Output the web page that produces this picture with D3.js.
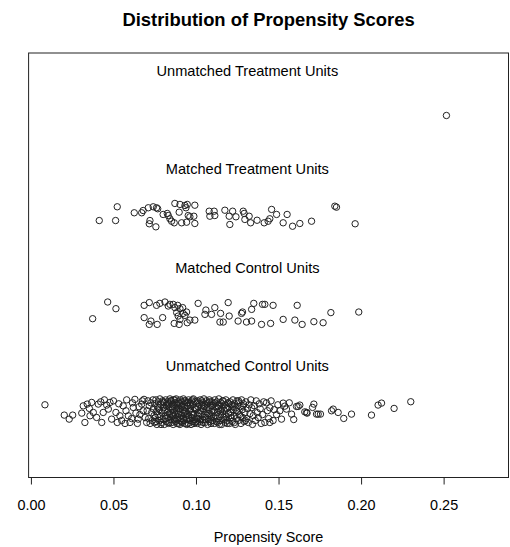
<!DOCTYPE html>
<html>
<head>
<meta charset="utf-8">
<script src="https://cdn.jsdelivr.net/npm/d3@7"></script>
<style>
  body { margin: 0; background: #fff; }
  svg { display: block; font-family: "Liberation Sans", Arial, sans-serif; }
</style>
</head>
<body>
<div id="chart"></div>
<script>
// group labels, their row positions and where the point rows are centred
const groups = ['Unmatched Treatment Units', 'Matched Treatment Units', 'Matched Control Units', 'Unmatched Control Units'];
const labelRows = [4, 3, 2, 1];
const pointRows = [3.5, 2.5, 1.5, 0.5];
const xTicks = [0, 0.05, 0.10, 0.15, 0.20, 0.25];

// [propensity score, vertical jitter]
const unmatchedTreated = [[0.2517, 0.024]];

const matchedTreated = [
  [0.0414, -0.045], [0.0513, -0.045], [0.0523, 0.095], [0.0626, 0.034], [0.0671, 0.034],
  [0.0680, 0.057], [0.0711, 0.085], [0.0741, 0.095], [0.0761, 0.085], [0.0768, 0.075],
  [0.0721, -0.045], [0.0717, -0.078], [0.0757, -0.109], [0.0801, 0.017], [0.0826, 0.027],
  [0.0832, 0.006], [0.0842, -0.027], [0.0852, -0.052], [0.0868, -0.068], [0.0872, 0.129],
  [0.0903, 0.119], [0.0898, 0.040], [0.0913, -0.068], [0.0933, 0.108], [0.0939, 0.085],
  [0.0947, 0.119], [0.0943, -0.062], [0.0953, 0.006], [0.0963, -0.007], [0.0987, -0.001],
  [0.0993, 0.111], [0.0993, -0.075], [0.1080, 0.050], [0.1084, -0.001], [0.1110, 0.050],
  [0.1114, 0.006], [0.1175, 0.060], [0.1201, -0.001], [0.1205, -0.085], [0.1222, 0.050],
  [0.1242, -0.007], [0.1286, 0.050], [0.1292, 0.027], [0.1296, -0.034], [0.1322, -0.001],
  [0.1331, -0.068], [0.1370, -0.042], [0.1413, -0.068], [0.1437, -0.052], [0.1447, -0.027],
  [0.1458, 0.068], [0.1488, 0.017], [0.1528, -0.068], [0.1552, 0.017], [0.1585, -0.103],
  [0.1629, -0.075], [0.1700, -0.052], [0.1841, 0.101], [0.1851, 0.091], [0.1964, -0.078]
];

const matchedControl = [
  [0.0374, -0.044], [0.0465, 0.126], [0.0515, 0.058], [0.0686, 0.092], [0.0717, 0.120],
  [0.0686, -0.033], [0.0727, -0.068], [0.0717, -0.102], [0.0765, -0.102], [0.0761, 0.092],
  [0.0781, 0.112], [0.0812, 0.126], [0.0798, -0.033], [0.0832, 0.085], [0.0842, 0.102],
  [0.0862, 0.102], [0.0872, 0.069], [0.0889, 0.092], [0.0903, 0.058], [0.0919, 0.069],
  [0.0883, 0.018], [0.0892, -0.017], [0.0903, -0.051], [0.0922, 0.010], [0.0933, -0.010],
  [0.0943, 0.024], [0.0868, -0.092], [0.0898, -0.102], [0.0947, -0.085], [0.0963, -0.058],
  [0.0993, -0.058], [0.1013, 0.112], [0.1060, 0.044], [0.1054, 0.000], [0.1094, 0.000],
  [0.1114, 0.069], [0.1149, 0.010], [0.1145, -0.078], [0.1165, -0.078], [0.1195, 0.120],
  [0.1201, -0.017], [0.1255, -0.068], [0.1276, 0.010], [0.1282, 0.024], [0.1306, -0.078],
  [0.1337, -0.068], [0.1337, 0.051], [0.1350, 0.112], [0.1403, 0.102], [0.1417, 0.102],
  [0.1397, -0.102], [0.1452, -0.092], [0.1467, 0.092], [0.1528, -0.051], [0.1599, -0.058],
  [0.1613, 0.092], [0.1643, -0.102], [0.1714, -0.074], [0.1770, -0.085], [0.1817, 0.018],
  [0.1986, 0.024]
];

const unmatchedControl = [
  // left tail
  [0.0085, 0.080], [0.0202, -0.025], [0.0232, -0.066], [0.0253, -0.025], [0.0308, -0.005],
  [0.0317, 0.069], [0.0327, -0.100], [0.0341, 0.087], [0.0354, 0.043], [0.0368, 0.104],
  [0.0358, -0.032], [0.0378, 0.002], [0.0398, -0.049], [0.0408, 0.087], [0.0429, -0.100],
  [0.0438, 0.002], [0.0423, 0.110], [0.0459, 0.077], [0.0469, 0.036], [0.0479, 0.104],
  [0.0489, -0.066], [0.0515, 0.002], [0.0523, -0.100], [0.0539, -0.032], [0.0559, 0.069],
  [0.0576, 0.019], [0.0590, -0.032], [0.0600, -0.100], [0.0620, 0.053], [0.0636, -0.005],
  [0.0650, -0.066], [0.0671, 0.087], [0.0680, 0.019], [0.0701, -0.100], [0.0500, 0.120],
  [0.0550, -0.080], [0.0580, 0.130], [0.0610, -0.060], [0.0630, 0.135], [0.0660, -0.020],
  [0.0685, 0.135], [0.0445, 0.130], [0.0532, 0.090], [0.0655, 0.060], [0.0692, -0.050],
  [0.0570, -0.110], [0.0615, 0.100], [0.0645, -0.110], [0.0675, 0.120],
  // dense core
  [0.0704, 0.02], [0.0709, 0.12], [0.0713, -0.06], [0.0717, 0.07], [0.0722, -0.11], [0.0726, 0.10],
  [0.0731, 0.00], [0.0735, -0.08], [0.0739, 0.13], [0.0742, 0.04], [0.0746, -0.03], [0.0749, -0.10],
  [0.0751, 0.09], [0.0754, -0.05], [0.0757, 0.13], [0.0760, 0.01], [0.0763, -0.12], [0.0766, 0.06],
  [0.0769, -0.02], [0.0772, 0.11], [0.0775, -0.08], [0.0778, 0.03], [0.0781, 0.14], [0.0784, -0.04],
  [0.0787, 0.08], [0.0791, -0.10], [0.0794, 0.00], [0.0797, 0.12],
  [0.0801, -0.07], [0.0803, 0.05], [0.0806, 0.10], [0.0808, -0.12], [0.0811, 0.02], [0.0813, -0.03],
  [0.0816, 0.13], [0.0819, 0.07], [0.0821, -0.09], [0.0824, 0.00], [0.0826, 0.11], [0.0829, -0.05],
  [0.0831, 0.04], [0.0834, -0.11], [0.0836, 0.09], [0.0839, -0.01], [0.0842, 0.14], [0.0844, -0.07],
  [0.0847, 0.06], [0.0849, -0.02],
  [0.0851, 0.12], [0.0853, -0.10], [0.0855, 0.03], [0.0857, -0.04], [0.0860, 0.08], [0.0862, -0.12],
  [0.0864, 0.13], [0.0866, 0.00], [0.0869, -0.07], [0.0871, 0.10], [0.0873, 0.05], [0.0875, -0.02],
  [0.0877, -0.09], [0.0880, 0.14], [0.0882, 0.02], [0.0884, -0.11], [0.0886, 0.07], [0.0889, -0.05],
  [0.0891, 0.11], [0.0893, -0.01], [0.0895, 0.04], [0.0898, -0.08],
  [0.0900, 0.09], [0.0902, -0.12], [0.0904, 0.01], [0.0906, 0.13], [0.0909, -0.06], [0.0911, 0.06],
  [0.0913, -0.03], [0.0915, 0.11], [0.0918, -0.10], [0.0920, 0.03], [0.0922, -0.01], [0.0924, 0.14],
  [0.0927, -0.08], [0.0929, 0.08], [0.0931, 0.00], [0.0933, -0.11], [0.0936, 0.12], [0.0938, -0.04],
  [0.0940, 0.05], [0.0943, -0.07], [0.0945, 0.10], [0.0948, -0.02],
  [0.0950, 0.07], [0.0953, -0.11], [0.0955, 0.13], [0.0957, -0.03], [0.0960, 0.02], [0.0962, -0.08],
  [0.0965, 0.10], [0.0967, 0.04], [0.0970, -0.12], [0.0972, 0.12], [0.0975, -0.05], [0.0977, 0.00],
  [0.0979, 0.08], [0.0982, -0.09], [0.0984, 0.14], [0.0987, -0.02], [0.0989, 0.05], [0.0992, -0.07],
  [0.0995, 0.11], [0.0997, -0.10],
  [0.1001, 0.03], [0.1004, -0.06], [0.1007, 0.12], [0.1009, -0.11], [0.1012, 0.06], [0.1015, 0.00],
  [0.1017, -0.04], [0.1020, 0.09], [0.1023, -0.09], [0.1026, 0.13], [0.1028, 0.02], [0.1031, -0.12],
  [0.1034, 0.07], [0.1036, -0.02], [0.1039, 0.10], [0.1042, -0.07], [0.1045, 0.04], [0.1048, 0.14],
  [0.1051, -0.05], [0.1053, 0.08], [0.1056, -0.10], [0.1059, 0.01], [0.1062, 0.12], [0.1065, -0.03],
  [0.1067, 0.05], [0.1070, -0.12], [0.1073, 0.10], [0.1076, -0.07], [0.1079, 0.03], [0.1081, 0.13],
  [0.1084, -0.01], [0.1087, -0.09], [0.1090, 0.07], [0.1093, -0.04], [0.1096, 0.11], [0.1098, 0.00],
  [0.1102, -0.08], [0.1105, 0.09], [0.1108, 0.02], [0.1111, -0.11], [0.1114, 0.13], [0.1117, -0.03],
  [0.1120, 0.06], [0.1123, -0.06], [0.1126, 0.11], [0.1129, 0.00], [0.1132, -0.10], [0.1135, 0.04],
  [0.1138, 0.14], [0.1141, -0.04], [0.1144, 0.08], [0.1147, -0.08], [0.1149, 0.01],
  [0.1152, 0.10], [0.1155, -0.12], [0.1158, 0.05], [0.1162, -0.02], [0.1165, 0.12], [0.1168, -0.07],
  [0.1171, 0.02], [0.1174, 0.08], [0.1177, -0.10], [0.1181, 0.13], [0.1184, -0.04], [0.1187, 0.04],
  [0.1190, -0.08], [0.1193, 0.10], [0.1196, -0.01], [0.1199, 0.06],
  [0.1203, -0.11], [0.1206, 0.11], [0.1210, 0.00], [0.1213, -0.05], [0.1217, 0.08], [0.1220, -0.09],
  [0.1224, 0.13], [0.1227, 0.03], [0.1231, -0.03], [0.1234, 0.09], [0.1238, -0.12], [0.1241, 0.05],
  [0.1245, -0.06], [0.1248, 0.12],
  [0.1252, 0.01], [0.1256, -0.08], [0.1260, 0.10], [0.1264, -0.02], [0.1268, 0.06], [0.1272, -0.11],
  [0.1276, 0.13], [0.1280, 0.03], [0.1284, -0.05], [0.1288, 0.09], [0.1292, -0.09], [0.1296, 0.00],
  [0.1302, 0.11], [0.1307, -0.06], [0.1312, 0.04], [0.1317, -0.10], [0.1322, 0.08], [0.1327, -0.01],
  [0.1332, 0.13], [0.1337, 0.05], [0.1342, -0.12], [0.1347, -0.03],
  [0.1353, 0.07], [0.1359, -0.08], [0.1365, 0.12], [0.1371, 0.00], [0.1377, -0.05], [0.1383, 0.09],
  [0.1389, 0.04], [0.1395, -0.11],
  [0.0758, -0.09], [0.0773, 0.05], [0.0788, -0.12], [0.0802, 0.11], [0.0815, -0.06], [0.0828, 0.08],
  [0.0837, -0.10], [0.0846, 0.12], [0.0856, 0.06], [0.0863, -0.03], [0.0872, 0.13], [0.0879, -0.06],
  [0.0887, 0.09], [0.0894, -0.11], [0.0901, 0.04], [0.0908, -0.09], [0.0916, 0.07], [0.0923, -0.06],
  [0.0930, 0.12], [0.0937, 0.01], [0.0944, -0.12], [0.0951, 0.10], [0.0958, -0.06], [0.0966, 0.07],
  [0.0973, -0.02], [0.0980, 0.13], [0.0988, -0.11], [0.0996, 0.04], [0.1003, -0.09], [0.1011, 0.10],
  [0.1019, -0.01], [0.1027, -0.07], [0.1035, 0.12], [0.1043, -0.10], [0.1050, 0.06], [0.1058, -0.07],
  [0.1066, 0.09], [0.1074, -0.01], [0.1083, 0.11], [0.1091, -0.11], [0.1099, 0.07], [0.1107, -0.04],
  [0.1116, 0.10], [0.1124, -0.09], [0.1133, 0.07], [0.1142, -0.12], [0.1151, 0.03], [0.1160, 0.12],
  [0.1170, -0.05], [0.1180, 0.05], [0.1189, -0.11], [0.1200, 0.09], [0.1211, -0.03], [0.1222, 0.06],
  [0.1233, -0.10], [0.1244, 0.02], [0.1258, 0.12], [0.1270, -0.04], [0.1285, 0.07], [0.1300, -0.08],
  // thinning out
  [0.1403, -0.02], [0.1410, 0.11], [0.1417, -0.10], [0.1427, 0.10], [0.1433, 0.02], [0.1440, -0.06],
  [0.1447, 0.05], [0.1447, -0.10], [0.1455, 0.12], [0.1467, -0.08], [0.1474, 0.03], [0.1488, -0.02],
  [0.1496, 0.08], [0.1508, 0.019], [0.1528, 0.097], [0.1518, -0.066], [0.1538, 0.066], [0.1548, 0.036],
  [0.1565, 0.10], [0.1579, -0.015], [0.1592, -0.07], [0.1609, 0.063], [0.1619, 0.063], [0.1629, 0.077],
  // right tail
  [0.1659, 0.008], [0.1670, 0.002], [0.1673, -0.005], [0.1706, 0.053], [0.1714, 0.087],
  [0.1730, -0.015], [0.1740, -0.015], [0.1754, -0.015], [0.1821, 0.019], [0.1831, 0.036],
  [0.1861, 0.002], [0.1895, -0.059], [0.1942, -0.015], [0.2063, -0.025], [0.2103, 0.077],
  [0.2124, 0.097], [0.2200, 0.043], [0.2301, 0.111]
];

const pointSets = [unmatchedTreated, matchedTreated, matchedControl, unmatchedControl];

const width = 510;
const height = 547;
const box = { left: 28.6, right: 508.5, top: 53, bottom: 477.5 };

const svg = d3.select('#chart')
  .append('svg')
  .attr('width', width)
  .attr('height', height);

const x = d3.scaleLinear().domain([-0.0014, 0.2893]).range([box.left, box.right]);
const y = d3.scaleLinear().domain([-0.16, 4.16]).range([box.bottom, box.top]);

// title
svg.append('text')
  .attr('x', (box.left + box.right) / 2)
  .attr('y', 26)
  .attr('text-anchor', 'middle')
  .style('font-size', '18.4px')
  .style('font-weight', 'bold')
  .text('Distribution of Propensity Scores');

// frame
svg.append('rect')
  .attr('x', box.left)
  .attr('y', box.top)
  .attr('width', box.right - box.left)
  .attr('height', box.bottom - box.top)
  .attr('fill', 'none')
  .attr('stroke', '#222')
  .attr('stroke-width', 1);

// x axis
const xAxis = svg.append('g')
  .attr('transform', `translate(0, ${box.bottom})`)
  .call(d3.axisBottom(x).tickValues(xTicks).tickFormat(d3.format('.2f')).tickSize(7).tickPadding(15));
xAxis.select('.domain').remove();
xAxis.selectAll('line').attr('stroke', '#222');
xAxis.selectAll('text').style('font-size', '14.4px').attr('fill', '#000')
  .style('font-family', '"Liberation Sans", Arial, sans-serif');

svg.append('text')
  .attr('x', (box.left + box.right) / 2)
  .attr('y', 542)
  .attr('text-anchor', 'middle')
  .style('font-size', '14.4px')
  .text('Propensity Score');

// group labels, centred on the middle of the score range
const labelX = x(0.1311);
svg.append('g').selectAll('text')
  .data(groups)
  .join('text')
  .attr('x', labelX)
  .attr('y', (d, i) => y(labelRows[i]) + 7.5)
  .attr('text-anchor', 'middle')
  .style('font-size', '14.6px')
  .text((d) => d);

// jittered points
pointSets.forEach((pts, i) => {
  svg.append('g')
    .selectAll('circle')
    .data(pts)
    .join('circle')
    .attr('cx', (d) => x(d[0]))
    .attr('cy', (d) => y(pointRows[i] + d[1]))
    .attr('r', 3.2)
    .attr('fill', 'none')
    .attr('stroke', '#222')
    .attr('stroke-width', 1);
});
</script>
</body>
</html>
